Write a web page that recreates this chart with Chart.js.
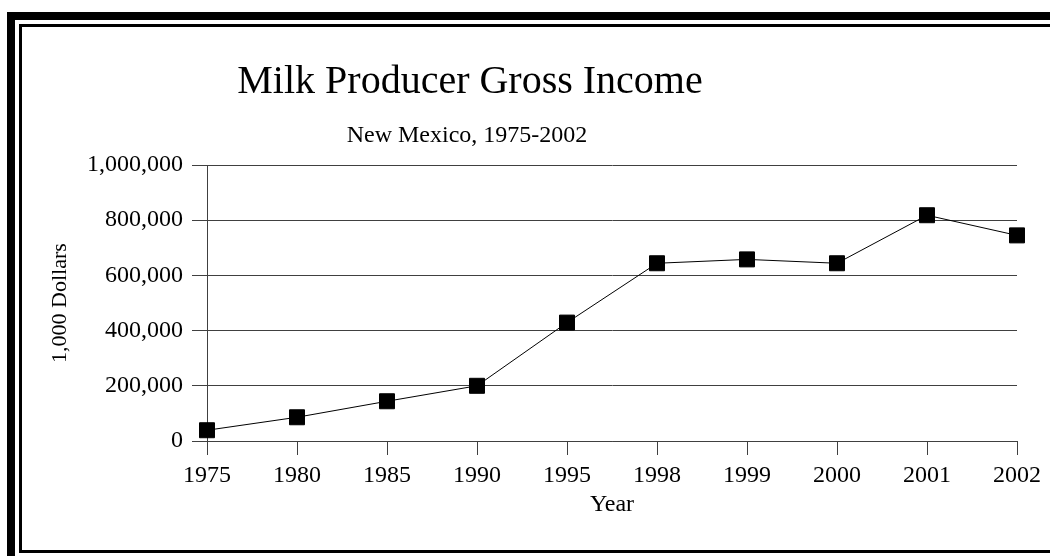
<!DOCTYPE html>
<html>
<head>
<meta charset="utf-8">
<script src="https://cdn.jsdelivr.net/npm/chart.js@4"></script>
<style>
  html, body { margin: 0; padding: 0; background: #fff; overflow: hidden; width: 1050px; height: 556px; }
  #outer { position: absolute; left: 7px; top: 12px; width: 1200px; height: 700px; border: 8px solid #000; box-sizing: border-box; }
  #inner { position: absolute; left: 19px; top: 24px; width: 1200px; height: 529px; border: 3px solid #000; box-sizing: border-box; }
  #c { position: absolute; left: 0; top: 0; z-index: 2; }
</style>
</head>
<body>
<div id="outer"></div>
<div id="inner"></div>
<canvas id="c" width="1050" height="556"></canvas>
<script>
// ---- data ----
const years = ['1975', '1980', '1985', '1990', '1995', '1998', '1999', '2000', '2001', '2002'];
const grossIncome = [39000, 86000, 144000, 200000, 429000, 644000, 658000, 644000, 818000, 745000];
const yTickValues = [0, 200000, 400000, 600000, 800000, 1000000];
const titleText = 'Milk Producer Gross Income';
const subtitleText = 'New Mexico, 1975-2002';
const yAxisTitle = '1,000 Dollars';
const xAxisTitle = 'Year';

const SERIF = '"Liberation Serif", "Times New Roman", serif';

function fmt(v) {
  return String(Math.round(v)).replace(/\B(?=(\d{3})+(?!\d))/g, ',');
}

const titlesPlugin = {
  id: 'titles',
  afterDraw(chart) {
    const ctx = chart.ctx;
    ctx.save();
    ctx.fillStyle = '#000';
    ctx.textAlign = 'center';
    ctx.textBaseline = 'alphabetic';
    ctx.font = '40px ' + SERIF;
    ctx.fillText(titleText, 470, 93);
    ctx.font = '24px ' + SERIF;
    ctx.fillText(subtitleText, 467, 142);
    ctx.restore();
  }
};

const gridColor = '#404040';

new Chart(document.getElementById('c'), {
  type: 'line',
  data: {
    labels: years,
    datasets: [{
      data: grossIncome,
      borderColor: '#000',
      borderWidth: 1,
      tension: 0,
      fill: false,
      clip: false,
      pointStyle: 'rect',
      pointRadius: 10.6,
      pointHoverRadius: 10.6,
      pointBackgroundColor: '#000',
      pointBorderColor: '#000',
      pointBorderWidth: 1
    }]
  },
  options: {
    responsive: false,
    animation: false,
    devicePixelRatio: 1,
    layout: { padding: { top: 165, left: 20, right: 33, bottom: 0 } },
    plugins: {
      legend: { display: false },
      tooltip: { enabled: false },
      title: { display: false }
    },
    scales: {
      x: {
        type: 'category',
        offset: false,
        grid: { drawOnChartArea: false, drawTicks: true, tickLength: 14, color: gridColor, lineWidth: 1 },
        border: { display: true, color: gridColor, width: 1 },
        ticks: {
          color: '#000',
          font: { family: SERIF, size: 24 },
          padding: 6.5,
          maxRotation: 0,
          autoSkip: false
        },
        title: {
          display: true,
          text: xAxisTitle,
          color: '#000',
          font: { family: SERIF, size: 24 },
          padding: { top: 0, bottom: 37 }
        },
        afterFit(scale) { scale.height = 115; }
      },
      y: {
        min: 0,
        max: 1000000,
        grid: { drawOnChartArea: true, drawTicks: true, tickLength: 15, color: gridColor, lineWidth: 1 },
        border: { display: true, color: gridColor, width: 1 },
        afterBuildTicks(scale) { scale.ticks = yTickValues.map(v => ({ value: v })); },
        ticks: {
          color: '#000',
          font: { family: SERIF, size: 24 },
          padding: 9,
          callback: (v) => fmt(v)
        },
        title: {
          display: true,
          text: yAxisTitle,
          color: '#000',
          font: { family: SERIF, size: 22 },
          padding: { top: 27, bottom: 0 }
        },
        afterFit(scale) { scale.width = 187; }
      }
    }
  },
  plugins: [titlesPlugin]
});
</script>
</body>
</html>
